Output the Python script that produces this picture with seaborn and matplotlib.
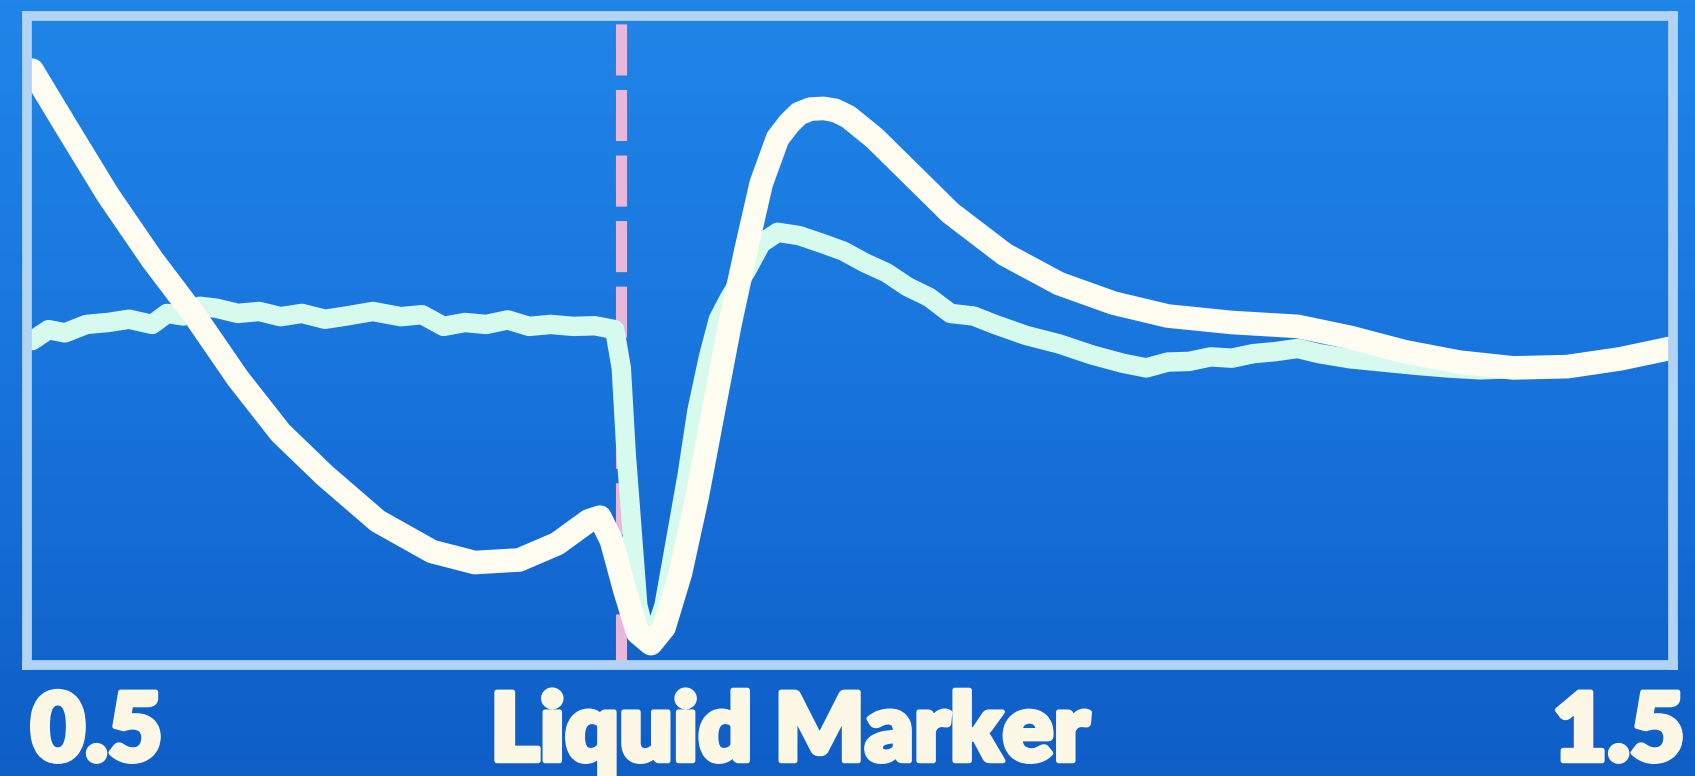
import numpy as np
import matplotlib
matplotlib.use('Agg')
import matplotlib.pyplot as plt
import matplotlib.patheffects as pe
import seaborn as sns
from matplotlib.colors import LinearSegmentedColormap

# White trace (x in 0.5..1.5, y in relative screen units 0..1)
white_x = [0.503, 0.523, 0.549, 0.576, 0.602, 0.628, 0.654, 0.681, 0.713, 0.746,
           0.772, 0.799, 0.822, 0.841, 0.848, 0.855, 0.863, 0.871, 0.879, 0.887,
           0.897, 0.907, 0.917, 0.927, 0.937, 0.946, 0.956, 0.963, 0.969, 0.976,
           0.984, 0.991, 0.999, 1.015, 1.035, 1.061, 1.094, 1.127, 1.160, 1.193,
           1.232, 1.272, 1.304, 1.337, 1.370, 1.403, 1.436, 1.468, 1.498]
white_y = [0.917, 0.833, 0.725, 0.625, 0.538, 0.442, 0.358, 0.292, 0.222, 0.175,
           0.158, 0.162, 0.187, 0.222, 0.228, 0.192, 0.117, 0.050, 0.033, 0.058,
           0.142, 0.258, 0.392, 0.525, 0.642, 0.742, 0.812, 0.835, 0.850, 0.857,
           0.858, 0.855, 0.845, 0.812, 0.762, 0.697, 0.633, 0.588, 0.558, 0.538,
           0.528, 0.522, 0.505, 0.483, 0.467, 0.458, 0.460, 0.472, 0.488]

# Light cyan trace
cyan_x = [0.503, 0.513, 0.523, 0.536, 0.549, 0.562, 0.576, 0.585, 0.595, 0.605,
          0.615, 0.628, 0.641, 0.654, 0.667, 0.681, 0.694, 0.710, 0.727, 0.740,
          0.753, 0.766, 0.779, 0.792, 0.805, 0.818, 0.832, 0.845, 0.857, 0.861,
          0.864, 0.868, 0.871, 0.876, 0.881, 0.887, 0.894, 0.901, 0.907, 0.914,
          0.920, 0.927, 0.937, 0.946, 0.956, 0.969, 0.983, 0.996, 1.009, 1.022,
          1.035, 1.048, 1.061, 1.075, 1.088, 1.107, 1.127, 1.147, 1.166, 1.180,
          1.193, 1.206, 1.219, 1.232, 1.245, 1.258, 1.272, 1.285, 1.304, 1.324,
          1.344, 1.363, 1.383, 1.403, 1.423, 1.442, 1.462, 1.482, 1.498]
cyan_y = [0.500, 0.517, 0.512, 0.525, 0.528, 0.533, 0.525, 0.542, 0.538, 0.553,
          0.550, 0.542, 0.545, 0.537, 0.542, 0.533, 0.538, 0.545, 0.537, 0.540,
          0.522, 0.528, 0.525, 0.532, 0.522, 0.525, 0.522, 0.523, 0.517, 0.458,
          0.325, 0.192, 0.092, 0.042, 0.045, 0.092, 0.192, 0.292, 0.392, 0.475,
          0.533, 0.567, 0.608, 0.650, 0.667, 0.662, 0.650, 0.638, 0.620, 0.605,
          0.583, 0.567, 0.542, 0.538, 0.525, 0.508, 0.495, 0.478, 0.465, 0.458,
          0.467, 0.468, 0.475, 0.473, 0.480, 0.483, 0.488, 0.480, 0.472, 0.467,
          0.462, 0.458, 0.455, 0.457, 0.458, 0.465, 0.472, 0.478, 0.488]

marker_x = 0.861
x_min, x_max = 0.5, 1.5
x_labels = ['0.5', '1.5']
title = 'Liquid Marker'

fig = plt.figure(figsize=(16.95, 7.76), dpi=100)

# blue screen background, slightly brighter at top
bg = fig.add_axes([0, 0, 1, 1], zorder=-5)
cmap = LinearSegmentedColormap.from_list('scr', ['#0e5ec6', '#1874dc', '#2085e8'])
bg.imshow(np.linspace(0, 1, 256).reshape(-1, 1), aspect='auto', cmap=cmap,
          origin='lower', extent=[0, 1, 0, 1])
bg.axis('off')

ax = fig.add_axes([0.016, 0.143, 0.971, 0.836])
ax.patch.set_alpha(0)

sns.lineplot(x=cyan_x, y=cyan_y, ax=ax, color='#d6faee', linewidth=14,
             sort=False, solid_capstyle='round', solid_joinstyle='round')
ax.axvline(marker_x, color='#e9b6dc', linewidth=8, linestyle=(0, (4.6, 1.3)), zorder=1)
sns.lineplot(x=white_x, y=white_y, ax=ax, color='#fffcf2', linewidth=17,
             sort=False, solid_capstyle='round', solid_joinstyle='round')

ax.set_xlim(x_min, x_max)
ax.set_ylim(0, 1)
ax.set_xticks([])
ax.set_yticks([])
for s in ax.spines.values():
    s.set_color('#b3d3f3')
    s.set_linewidth(7)

txt = dict(color='#fdf8e6', fontsize=68, fontweight='heavy', family=['Lato', 'DejaVu Sans'],
           va='center',
           path_effects=[pe.withStroke(linewidth=3.5, foreground='#fdf8e6')])
fig.text(0.018, 0.055, x_labels[0], ha='left', **txt)
fig.text(0.466, 0.055, title, ha='center', **txt)
fig.text(0.994, 0.055, x_labels[1], ha='right', **txt)

fig.savefig('out.png', dpi=100)
